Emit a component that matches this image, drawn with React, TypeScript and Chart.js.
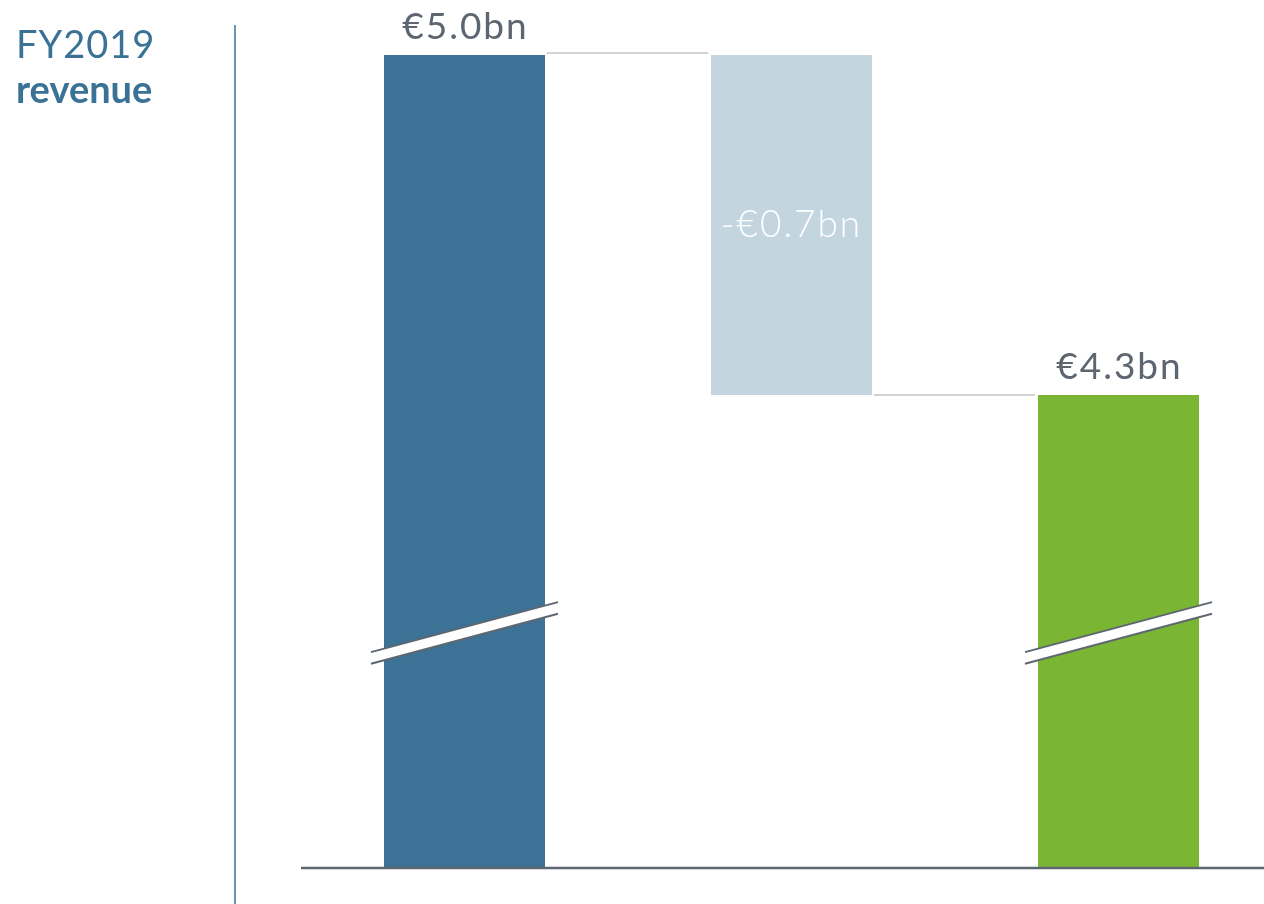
import React, { useEffect, useRef } from "react";
import { Chart, registerables } from "chart.js";

Chart.register(...registerables);

// ---- data ----
const categories = ["FY2019 revenue", "Change", "FY2020 revenue"];
const amounts = [5.0, -0.7, 4.3];
const kinds = ["total", "delta", "total"];
const valueLabels = ["€5.0bn", "-€0.7bn", "€4.3bn"];
const titleLines = ["FY2019", "revenue"];
const axisFloor = 3.326; // visible floor of the broken value axis (bn)
const axisBreakAt = 3.81; // where the break marks sit (bn)

// waterfall table built from the values above
const barData: (number | [number, number])[] = [];
{
  let running = 0;
  amounts.forEach((v, i) => {
    if (kinds[i] === "total") {
      running = v;
      barData.push(v);
    } else {
      const next = running + v;
      barData.push([Math.min(running, next), Math.max(running, next)]);
      running = next;
    }
  });
}

const COLORS = ["#3b7295", "#c3d6e0", "#7ab634"];
const TEXT_GRAY = "#5d6670";
const TITLE_BLUE = "#3a7296";
const FONT = "Lato, 'Open Sans', sans-serif";

const decorPlugin = {
  id: "decor",
  afterDatasetsDraw(chart: any) {
    const ctx = chart.ctx as CanvasRenderingContext2D;
    const area = chart.chartArea;
    const y = chart.scales.y;
    const meta = chart.getDatasetMeta(0);
    ctx.save();

    // connectors between bars
    ctx.strokeStyle = "#d3d3d3";
    ctx.lineWidth = 2;
    let running = 0;
    for (let i = 0; i < amounts.length - 1; i++) {
      running = kinds[i] === "total" ? amounts[i] : running + amounts[i];
      const a = meta.data[i];
      const b = meta.data[i + 1];
      const py = Math.round(y.getPixelForValue(running)) - (i === 0 ? 2 : 0);
      ctx.beginPath();
      ctx.moveTo(a.x + a.width / 2 + 2, py);
      ctx.lineTo(b.x - b.width / 2 - 3, py);
      ctx.stroke();
    }

    // baseline
    ctx.strokeStyle = "#5e6770";
    ctx.lineWidth = 2.5;
    ctx.beginPath();
    ctx.moveTo(area.left, area.bottom);
    ctx.lineTo(chart.width, area.bottom);
    ctx.stroke();

    // axis break marks on the total bars
    const by = y.getPixelForValue(axisBreakAt);
    kinds.forEach((k, i) => {
      if (k !== "total") return;
      const bar = meta.data[i];
      const half = bar.width / 2 + 13;
      const dy = 25;
      const gap = 5.8;
      const x0 = bar.x - half;
      const x1 = bar.x + half;
      ctx.fillStyle = "#ffffff";
      ctx.beginPath();
      ctx.moveTo(x0, by + dy - gap);
      ctx.lineTo(x1, by - dy - gap);
      ctx.lineTo(x1, by - dy + gap);
      ctx.lineTo(x0, by + dy + gap);
      ctx.closePath();
      ctx.fill();
      ctx.strokeStyle = "#5e6770";
      ctx.lineWidth = 2;
      ctx.beginPath();
      ctx.moveTo(x0, by + dy - gap);
      ctx.lineTo(x1, by - dy - gap);
      ctx.moveTo(x0, by + dy + gap);
      ctx.lineTo(x1, by - dy + gap);
      ctx.stroke();
    });

    // value labels
    ctx.textAlign = "center";
    ctx.textBaseline = "alphabetic";
    (ctx as any).letterSpacing = "2px";
    meta.data.forEach((bar: any, i: number) => {
      if (kinds[i] === "total") {
        ctx.fillStyle = TEXT_GRAY;
        ctx.font = `400 37px ${FONT}`;
        ctx.fillText(valueLabels[i], bar.x + 1, bar.y - 16);
      } else {
        ctx.fillStyle = "#ffffff";
        ctx.font = `300 37px ${FONT}`;
        const mid = (bar.y + bar.base) / 2;
        ctx.fillText(valueLabels[i], bar.x, mid + 12);
      }
    });

    // left title + divider
    (ctx as any).letterSpacing = "1px";
    ctx.textAlign = "left";
    ctx.fillStyle = TITLE_BLUE;
    ctx.font = `400 38px ${FONT}`;
    ctx.fillText(titleLines[0], 16, 58);
    (ctx as any).letterSpacing = "0px";
    ctx.font = `700 38px ${FONT}`;
    ctx.fillText(titleLines[1], 16, 103);

    ctx.strokeStyle = TITLE_BLUE;
    ctx.lineWidth = 1.5;
    ctx.beginPath();
    ctx.moveTo(235, 25);
    ctx.lineTo(235, chart.height);
    ctx.stroke();

    ctx.restore();
  },
};

export default function App() {
  const canvasRef = useRef<HTMLCanvasElement | null>(null);

  useEffect(() => {
    if (!canvasRef.current) return;
    const chart = new Chart(canvasRef.current, {
      type: "bar",
      data: {
        labels: categories,
        datasets: [
          {
            data: barData as any,
            backgroundColor: COLORS,
            borderWidth: 0,
            barPercentage: 161 / 327,
            categoryPercentage: 1,
            clip: 0 as any,
          },
        ],
      },
      options: {
        responsive: false,
        animation: false,
        devicePixelRatio: 1,
        layout: { padding: { left: 301, right: 0, top: 55, bottom: 36 } },
        plugins: {
          legend: { display: false },
          tooltip: { enabled: false },
          title: { display: false },
        },
        scales: {
          x: { display: false },
          y: {
            display: false,
            min: axisFloor,
            max: amounts[0],
            beginAtZero: false,
          },
        },
      },
      plugins: [decorPlugin],
    });
    return () => chart.destroy();
  }, []);

  return (
    <div
      style={{
        position: "absolute",
        left: 0,
        top: 0,
        width: 1264,
        height: 904,
        overflow: "hidden",
        background: "#ffffff",
      }}
    >
      <canvas
        ref={canvasRef}
        width={1282}
        height={904}
        style={{ width: 1282, height: 904, display: "block" }}
      />
    </div>
  );
}
